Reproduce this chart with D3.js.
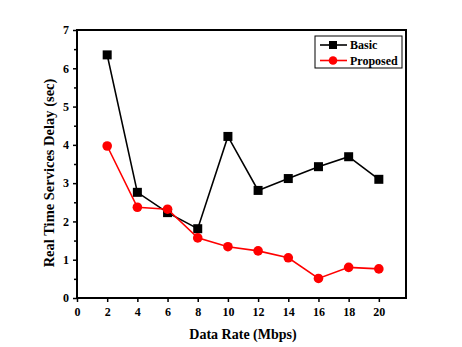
<!DOCTYPE html>
<html>
<head>
<meta charset="utf-8">
<script src="https://cdn.jsdelivr.net/npm/d3@7"></script>
<style>
  body { margin: 0; background: #fff; }
  text { font-family: "Liberation Serif", "Times New Roman", serif; font-weight: bold; }
</style>
</head>
<body>
<div id="graf"></div>
<script>
// -- Datos
dataRate = [2, 4, 6, 8, 10, 12, 14, 16, 18, 20]
basic    = [6.35, 2.76, 2.23, 1.81, 4.22, 2.81, 3.12, 3.43, 3.69, 3.10]
proposed = [3.97, 2.37, 2.32, 1.57, 1.34, 1.23, 1.05, 0.51, 0.80, 0.76]
xTicks = [0, 2, 4, 6, 8, 10, 12, 14, 16, 18, 20]
yTicks = [0, 1, 2, 3, 4, 5, 6, 7]
series = [
  { name: 'Basic', values: basic, color: '#000000', shape: 'square' },
  { name: 'Proposed', values: proposed, color: '#ff0000', shape: 'circle' }
]

// -- Configuración del canvas
ancho_total = 462
alto_total = 347
margins = { top: 30, left: 77, right: 56, bottom: 49 }
ancho = ancho_total - margins.left - margins.right
alto = alto_total - margins.top - margins.bottom

svg = d3.select('#graf').append('svg')
        .attr('width', ancho_total)
        .attr('height', alto_total)

g = svg.append('g')
       .attr('transform', `translate(${margins.left}, ${margins.top})`)

// -- Escaladores
x = d3.scaleLinear().domain([0, 21.8]).range([0, ancho])
y = d3.scaleLinear().domain([0, 7]).range([alto, 0])

// -- Ejes
xAxis = d3.axisBottom(x).tickValues(xTicks).tickSize(4).tickSizeOuter(0).tickFormat(d3.format('d'))
yAxis = d3.axisLeft(y).tickValues(yTicks).tickSize(4).tickSizeOuter(0).tickFormat(d3.format('d'))
yMinor = d3.axisLeft(y).tickValues(d3.range(0.5, 7, 1)).tickSize(3).tickFormat('')

gx = g.append('g')
      .attr('transform', `translate(0,${alto})`)
      .call(xAxis)
gy = g.append('g').call(yAxis)
gym = g.append('g').call(yMinor)
gym.select('.domain').remove()

;[gx, gy, gym].forEach(a => {
  a.selectAll('line').attr('stroke', '#000').attr('stroke-width', 1.5)
  a.selectAll('text').attr('font-size', '12px').attr('fill', '#000')
})
gx.selectAll('text').attr('dy', '0.9em')
gy.selectAll('text').attr('dx', '-1px')
gx.select('.domain').remove()
gy.select('.domain').remove()

// -- Marco
g.append('rect')
  .attr('x', 0).attr('y', 0)
  .attr('width', ancho).attr('height', alto)
  .attr('fill', 'none').attr('stroke', '#000').attr('stroke-width', 2)

// -- Líneas y marcadores
line = d3.line()
         .x((d, i) => x(dataRate[i]))
         .y(d => y(d))

series.forEach(s => {
  g.append('path')
    .datum(s.values)
    .attr('d', line)
    .attr('fill', 'none')
    .attr('stroke', s.color)
    .attr('stroke-width', 1.6)
  if (s.shape === 'square') {
    g.selectAll(null).data(s.values).enter().append('rect')
      .attr('x', (d, i) => x(dataRate[i]) - 4.5)
      .attr('y', d => y(d) - 4.5)
      .attr('width', 9).attr('height', 9)
      .attr('fill', s.color)
  } else {
    g.selectAll(null).data(s.values).enter().append('circle')
      .attr('cx', (d, i) => x(dataRate[i]))
      .attr('cy', d => y(d))
      .attr('r', 4.8)
      .attr('fill', s.color)
  }
})

// -- Leyenda
leg = g.append('g').attr('transform', `translate(${ancho - 91}, 6)`)
leg.append('rect')
  .attr('width', 87).attr('height', 32)
  .attr('fill', '#fff').attr('stroke', '#000').attr('stroke-width', 1)
series.forEach((s, i) => {
  const ly = 9 + i * 15.5
  leg.append('line')
    .attr('x1', 5).attr('x2', 32).attr('y1', ly).attr('y2', ly)
    .attr('stroke', s.color).attr('stroke-width', 1.6)
  if (s.shape === 'square') {
    leg.append('rect').attr('x', 14).attr('y', ly - 4).attr('width', 8).attr('height', 8).attr('fill', s.color)
  } else {
    leg.append('circle').attr('cx', 18).attr('cy', ly).attr('r', 4.3).attr('fill', s.color)
  }
  leg.append('text')
    .attr('x', 35).attr('y', ly + 4)
    .attr('font-size', '12px')
    .text(s.name)
})

// -- Títulos de ejes
svg.append('text')
  .attr('x', margins.left + x(11))
  .attr('y', 339)
  .attr('text-anchor', 'middle')
  .attr('font-size', '14px')
  .text('Data Rate (Mbps)')

svg.append('text')
  .attr('transform', `translate(54, 173) rotate(-90)`)
  .attr('text-anchor', 'middle')
  .attr('font-size', '14.5px')
  .text('Real Time Services Delay (sec)')
</script>
</body>
</html>
